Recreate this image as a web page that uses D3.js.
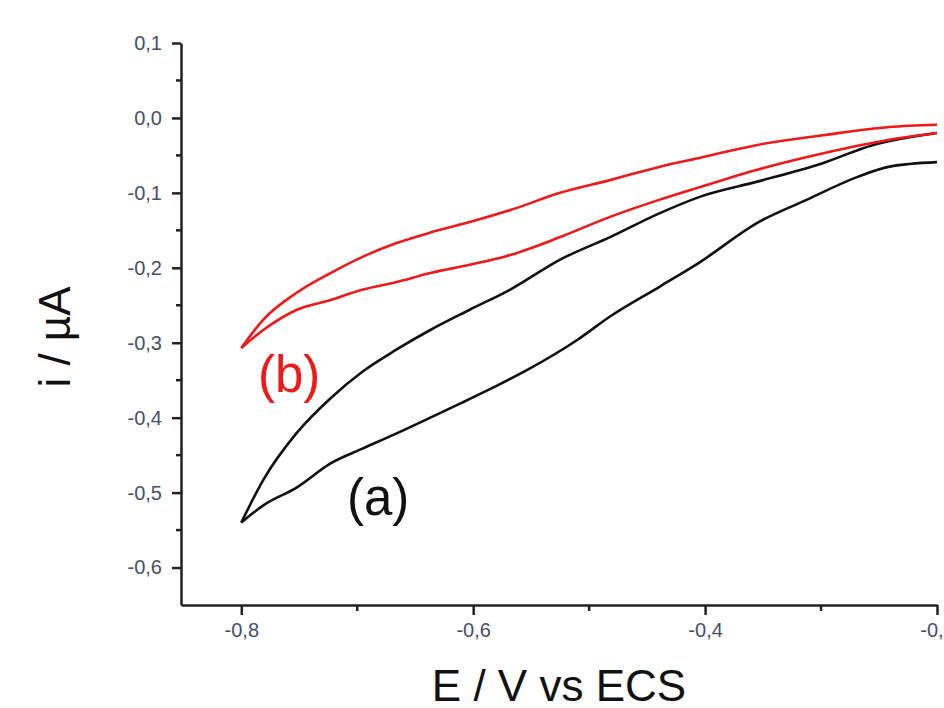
<!DOCTYPE html>
<html>
<head>
<meta charset="utf-8">
<script src="https://cdn.jsdelivr.net/npm/d3@7"></script>
<style>
  html, body { margin: 0; padding: 0; background: #fff; }
  svg { display: block; }
</style>
</head>
<body>
<svg id="chart" width="944" height="708"></svg>
<script>
// ---- Data (E in V vs ECS, i in µA) ----
const curveA_lowerE = [-0.80, -0.781, -0.752, -0.723, -0.695, -0.666, -0.637, -0.611, -0.583, -0.553, -0.510, -0.482, -0.439, -0.404, -0.355, -0.312, -0.269, -0.241, -0.200];
const curveA_lowerI = [-0.540, -0.517, -0.493, -0.461, -0.441, -0.421, -0.400, -0.381, -0.360, -0.336, -0.296, -0.265, -0.225, -0.192, -0.140, -0.109, -0.079, -0.065, -0.059];
const curveA_upperE = [-0.80, -0.781, -0.752, -0.723, -0.695, -0.666, -0.637, -0.603, -0.568, -0.525, -0.482, -0.439, -0.404, -0.355, -0.298, -0.255, -0.200];
const curveA_upperI = [-0.540, -0.483, -0.420, -0.374, -0.338, -0.309, -0.283, -0.256, -0.229, -0.189, -0.159, -0.127, -0.105, -0.085, -0.060, -0.036, -0.020];
const curveB_upperE = [-0.80, -0.781, -0.752, -0.723, -0.695, -0.666, -0.637, -0.603, -0.568, -0.525, -0.482, -0.439, -0.404, -0.355, -0.298, -0.241, -0.200];
const curveB_upperI = [-0.307, -0.269, -0.233, -0.207, -0.185, -0.167, -0.153, -0.139, -0.123, -0.100, -0.083, -0.065, -0.053, -0.036, -0.023, -0.012, -0.009];
const curveB_lowerE = [-0.80, -0.781, -0.752, -0.723, -0.695, -0.666, -0.637, -0.603, -0.568, -0.525, -0.482, -0.439, -0.404, -0.355, -0.298, -0.241, -0.200];
const curveB_lowerI = [-0.307, -0.283, -0.256, -0.243, -0.229, -0.219, -0.207, -0.196, -0.183, -0.159, -0.132, -0.109, -0.092, -0.069, -0.047, -0.029, -0.020];

const xTickValues = [-0.8, -0.6, -0.4, -0.2];
const xTickLabels = ["-0,8", "-0,6", "-0,4", "-0,2"];
const xMinorTicks = [-0.7, -0.5, -0.3];
const yTickValues = [0.1, 0.0, -0.1, -0.2, -0.3, -0.4, -0.5, -0.6];
const yTickLabels = ["0,1", "0,0", "-0,1", "-0,2", "-0,3", "-0,4", "-0,5", "-0,6"];
const yMinorTicks = [0.05, -0.05, -0.15, -0.25, -0.35, -0.45, -0.55];

const seriesLabels = ["(a)", "(b)"];

(function () {
const zip = (xs, ys) => xs.map((v, i) => ({ E: v, I: ys[i] }));
const series = [
  { name: "a", color: "#111111", branches: [zip(curveA_lowerE, curveA_lowerI), zip(curveA_upperE, curveA_upperI)] },
  { name: "b", color: "#f01818", branches: [zip(curveB_lowerE, curveB_lowerI), zip(curveB_upperE, curveB_upperI)] }
];

const svg = d3.select("#chart");
const mLeft = 181, mRight = 937, mTop = 43, mBottom = 605;

const x = d3.scaleLinear().domain([-0.852, -0.2]).range([mLeft, mRight]);
const y = d3.scaleLinear().domain([-0.65, 0.1]).range([mBottom, mTop]);

const tickColor = "#46506a";
const axisColor = "#222";
const font = "Arial, 'Liberation Sans', sans-serif";

// Y axis
const yAxis = d3.axisLeft(y)
  .tickValues(yTickValues)
  .tickFormat((d, i) => yTickLabels[i])
  .tickSize(9)
  .tickSizeOuter(0)
  .tickPadding(10);
const gy = svg.append("g").attr("transform", `translate(${mLeft},0)`).call(yAxis);
gy.select(".domain").attr("stroke", axisColor).attr("stroke-width", 2.5);
gy.selectAll(".tick line").attr("stroke", axisColor).attr("stroke-width", 2.5);
gy.selectAll(".tick text").attr("fill", tickColor)
  .style("font-family", font).style("font-size", "20px");
gy.selectAll(".minor").data(yMinorTicks).enter().append("line")
  .attr("class", "minor")
  .attr("x1", -5).attr("x2", 0)
  .attr("y1", d => y(d)).attr("y2", d => y(d))
  .attr("stroke", axisColor).attr("stroke-width", 2.5);

// X axis
const xAxis = d3.axisBottom(x)
  .tickValues(xTickValues)
  .tickFormat((d, i) => xTickLabels[i])
  .tickSize(10)
  .tickSizeOuter(0)
  .tickPadding(8);
const gx = svg.append("g").attr("transform", `translate(0,${mBottom})`).call(xAxis);
gx.select(".domain").attr("stroke", axisColor).attr("stroke-width", 2.5);
gx.selectAll(".tick line").attr("stroke", axisColor).attr("stroke-width", 2.5);
gx.selectAll(".tick text").attr("fill", tickColor)
  .style("font-family", font).style("font-size", "20px");
gx.selectAll(".minor").data(xMinorTicks).enter().append("line")
  .attr("class", "minor")
  .attr("y1", 0).attr("y2", 6)
  .attr("x1", d => x(d)).attr("x2", d => x(d))
  .attr("stroke", axisColor).attr("stroke-width", 2.5);

// Curves
const line = d3.line().x(d => x(d.E)).y(d => y(d.I)).curve(d3.curveMonotoneX);
series.forEach(s => {
  s.branches.forEach(b => {
    svg.append("path").datum(b)
      .attr("d", line)
      .attr("fill", "none")
      .attr("stroke", s.color)
      .attr("stroke-width", 2.6)
      .attr("stroke-linejoin", "round");
  });
});

// Series labels
svg.append("text").attr("x", 347).attr("y", 515)
  .attr("fill", "#111").style("font-family", font).style("font-size", "51px")
  .text(seriesLabels[0]);
svg.append("text").attr("x", 258).attr("y", 392)
  .attr("fill", "#f01818").style("font-family", font).style("font-size", "51px")
  .text(seriesLabels[1]);

// Axis titles
svg.append("text")
  .attr("x", 559).attr("y", 701)
  .attr("text-anchor", "middle")
  .attr("fill", "#111")
  .style("font-family", font).style("font-size", "44px")
  .text("E / V vs ECS");
svg.append("text")
  .attr("transform", "translate(70,337) rotate(-90)")
  .attr("text-anchor", "middle")
  .attr("fill", "#111")
  .style("font-family", font).style("font-size", "44px")
  .text("i / µA");
})();
</script>
</body>
</html>
